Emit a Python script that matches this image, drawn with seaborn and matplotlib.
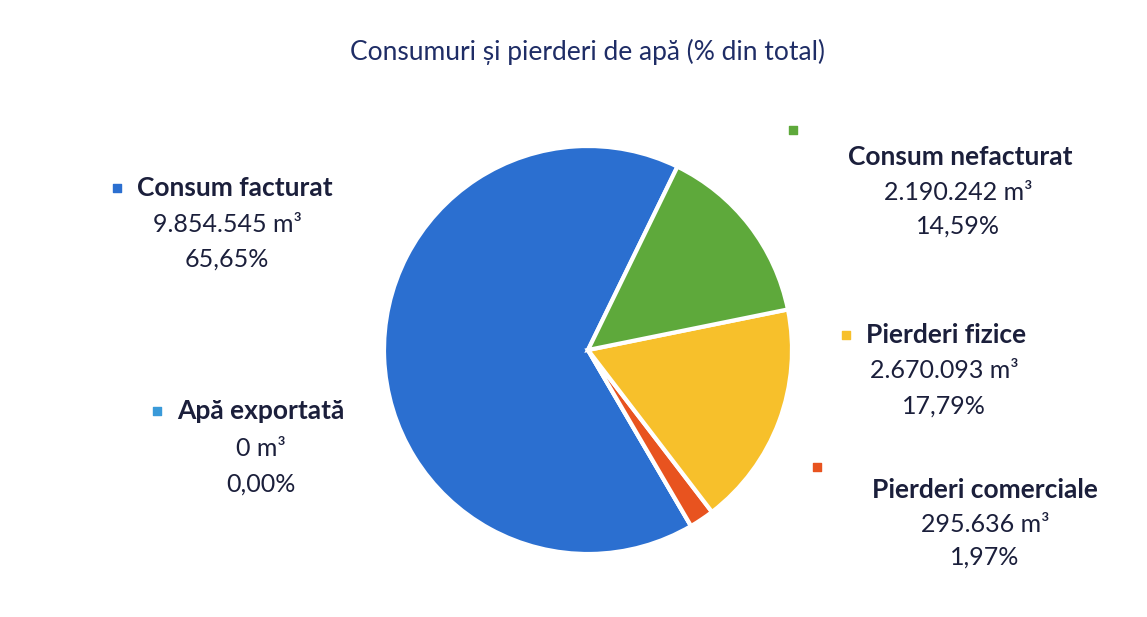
import matplotlib
matplotlib.use("Agg")
import matplotlib.pyplot as plt
import seaborn as sns

# data
categories = ["Consum facturat", "Apă exportată", "Pierderi comerciale",
              "Pierderi fizice", "Consum nefacturat"]
volumes = [9854545, 0, 295636, 2670093, 2190242]
percents = [65.65, 0.00, 1.97, 17.79, 14.59]
colors = ["#2b6fd0", "#3a9ad9", "#e8531f", "#f7c02b", "#5ea93b"]

sns.set_theme(style="white")
plt.rcParams["font.family"] = ["Lato", "DejaVu Sans"]

W, H = 1147, 617
fig = plt.figure(figsize=(W / 100, H / 100), dpi=100)
ax = fig.add_axes([0, 0, 1, 1])

ax.pie(volumes, colors=colors, startangle=64, center=(588, H - 350),
       radius=204, wedgeprops=dict(edgecolor="white", linewidth=3))

ax.set_xlim(0, W)
ax.set_ylim(0, H)
ax.set_aspect("equal")
ax.axis("off")

ax.text(587, H - 52, "Consumuri și pierderi de apă (% din total)",
        ha="center", va="center", fontsize=19, color="#1f2d66")

txt = "#1b1f3b"
# (square x, square y, name x, name y, name ha, block center x, value y, pct y) in pixels
label_pos = {
    "Consum facturat": (117, 188, 137, 188, "left", 227, 225, 259),
    "Apă exportată": (157, 411, 177, 411, "left", 261, 448, 484),
    "Pierderi comerciale": (817, 467, 985, 490, "center", 985, 524, 557),
    "Pierderi fizice": (846, 335, 866, 335, "left", 944, 370, 406),
    "Consum nefacturat": (793, 130, 960, 157, "center", 958, 192, 226),
}

for cat, vol, pct, col in zip(categories, volumes, percents, colors):
    sx, sy, nx, ny, ha, cx, vy, py = label_pos[cat]
    ax.scatter([sx], [H - sy], marker="s", s=40, color=col, zorder=3)
    ax.text(nx, H - ny, cat, ha=ha, va="center", fontsize=19,
            fontweight="bold", color=txt)
    ax.text(cx, H - vy, f"{vol:,}".replace(",", ".") + " m³", ha="center",
            va="center", fontsize=18, color=txt)
    ax.text(cx, H - py, f"{pct:.2f}".replace(".", ",") + "%", ha="center",
            va="center", fontsize=18, color=txt)

fig.savefig("out.png", dpi=100, facecolor="white")
